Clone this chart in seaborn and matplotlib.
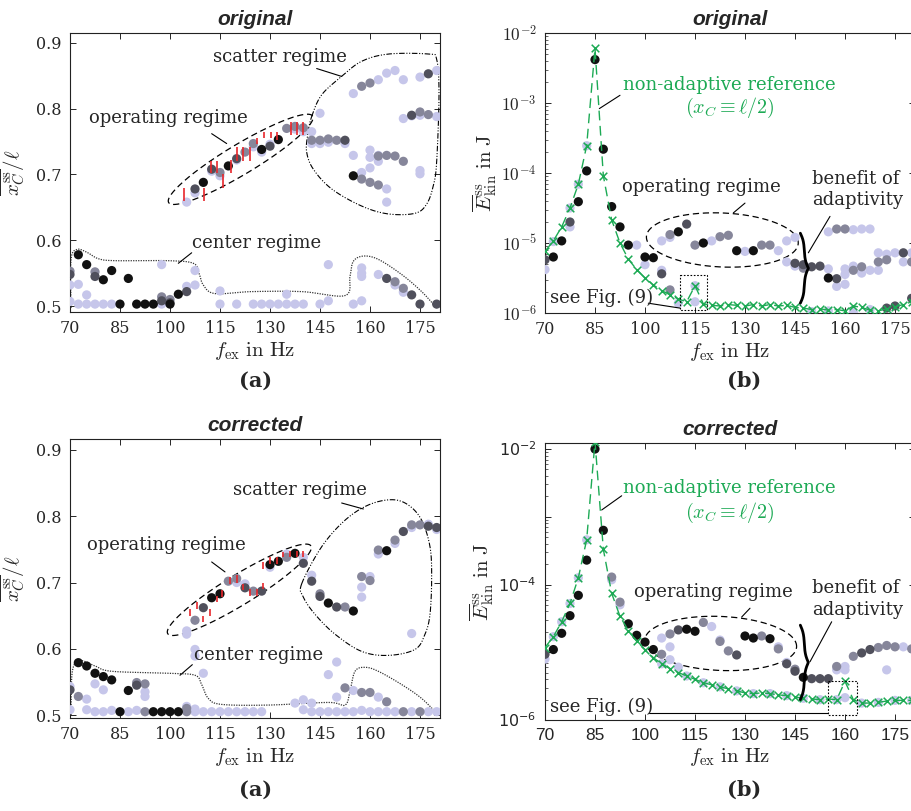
import numpy as np
import pandas as pd
import matplotlib
matplotlib.use("Agg")
import matplotlib.pyplot as plt
import seaborn as sns
from matplotlib.ticker import FixedLocator, LogLocator, NullFormatter

# ---------------- data (f in Hz, value) ----------------
# (a) original: normalized actuator position
a_orig_black = [(72.5,.578),(75,.563),(80,.540),(82.5,.554),(85,.503),(87.5,.542),(90,.503),(92.5,.503),(95,.503),
                (100,.503),(102.5,.518),(110,.688),(117.5,.713),(127.5,.738),(132.5,.753),(155,.698)]
a_orig_dark = [(70,.548),(77.5,.545),(97.5,.508),(100,.505),(105,.522),(165,.542),(172.5,.517),(175,.503),(180,.503),
               (107.5,.678),(112.5,.708),(120,.724),(130,.743),(152.5,.752),(177.5,.853),(172.5,.790)]
a_orig_mid = [(70,.553),(77.5,.552),(97.5,.514),(100,.510),(167.5,.537),(170,.527),(115,.703),(122.5,.734),(125,.747),
              (135,.770),(137.5,.773),(140,.771),(142.5,.752),(145,.752),(147.5,.754),(150,.752),(157.5,.834),(160,.839),
              (157.5,.693),(160,.688),(162.5,.684),(162.5,.728),(165,.729),(167.5,.728),(170,.720),(177.5,.791),(175,.795)]
a_orig_light = [(70,.532),(70,.507),(72.5,.533),(72.5,.503),(75,.517),(75,.503),(77.5,.503),(80,.503),(82.5,.503),
                (97.5,.563),(97.5,.503),(105,.530),(107.5,.554),(107.5,.532),(115,.523),(115,.503),(120,.503),(125,.503),
                (127.5,.503),(130,.503),(132.5,.503),(135,.518),(135,.503),(137.5,.503),(140,.503),(145,.503),(147.5,.563),
                (147.5,.508),(155,.503),(157.5,.558),(157.5,.550),(157.5,.545),(157.5,.508),(162.5,.548),(167.5,.532),
                (170,.521),(105,.658),(107.5,.672),(112.5,.705),(115,.698),(120,.722),(125,.742),(127.5,.734),(130,.746),
                (137.5,.769),(140,.765),(142.5,.765),(142.5,.747),(145,.793),(145,.747),(147.5,.749),(152.5,.747),
                (155,.823),(155,.729),(157.5,.703),(160,.737),(160,.726),(160,.710),(162.5,.844),(162.5,.729),(162.5,.720),
                (165,.854),(165,.678),(165,.658),(167.5,.858),(170,.844),(170,.785),(172.5,.789),(175,.848),(175,.790),
                (175,.706),(175,.701),(180,.858),(180,.788)]
a_orig_red = [(104.2,.660,.680),(110.2,.660,.680),(112.2,.702,.720),(114,.702,.720),(116,.680,.701),(118.2,.702,.722),
              (120,.721,.742),(122,.721,.741),(124,.721,.742),(126.2,.746,.756),(128.2,.755,.764),(130.2,.755,.764),
              (132.2,.753,.764),(136.2,.760,.779),(138.2,.760,.779),(140,.760,.779)]

# (a) corrected
a_corr_black = [(72.5,.579),(75,.574),(77.5,.563),(80,.558),(82.5,.553),(85,.505),(87.5,.537),(95,.505),(97.5,.505),
                (100,.505),(102.5,.505),(112.5,.677),(115,.683),(130,.727),(132.5,.732),(137.5,.744),(147.5,.669),
                (155,.657),(165,.748)]
a_corr_dark = [(70,.538),(90,.545),(110,.662),(122.5,.692),(127.5,.687),(140,.729),(142.5,.702),(145,.679),(150,.663),
               (170,.777),(180,.783),(177.5,.785)]
a_corr_mid = [(72.5,.528),(90,.549),(92.5,.547),(92.5,.505),(105,.510),(105,.505),(107.5,.643),(117.5,.702),(120,.706),
              (125,.687),(135,.738),(145,.683),(152.5,.663),(157.5,.709),(160,.703),(162.5,.749),(167.5,.764),
              (172.5,.787),(175,.787),(152.5,.541),(157.5,.534),(160,.534),(165,.520),(170,.505),(175,.505)]
a_corr_light = [(70,.543),(70,.508),(75,.524),(75,.508),(77.5,.547),(77.5,.505),(80,.538),(80,.505),(82.5,.507),
                (87.5,.505),(90,.507),(92.5,.535),(92.5,.528),(105,.513),(107.5,.599),(107.5,.589),(107.5,.509),
                (107.5,.505),(110,.563),(110,.505),(112.5,.505),(115,.505),(117.5,.505),(120,.505),(122.5,.505),
                (125,.505),(127.5,.505),(137.5,.518),(140,.523),(140,.508),(142.5,.518),(142.5,.505),(145,.505),
                (147.5,.561),(147.5,.505),(150,.580),(150,.527),(150,.505),(152.5,.505),(155,.537),(155,.505),
                (157.5,.507),(160,.505),(162.5,.527),(162.5,.505),(165,.505),(167.5,.505),(172.5,.505),(177.5,.505),
                (180,.505),(105,.627),(105,.622),(120,.700),(122.5,.698),(130,.723),(135,.743),(140,.738),(142.5,.711),
                (157.5,.693),(157.5,.678),(160,.709),(162.5,.743),(167.5,.759),(172.5,.783),(177.5,.788),(180,.780),
                (172.5,.623)]
a_corr_red = [(106,.650,.660),(108,.660,.670),(110,.640,.650),(112,.650,.660),(114,.670,.680),(115.7,.678,.688),
              (118,.698,.708),(120,.700,.711),(122,.688,.698),(124,.680,.690),(126,.680,.690),(128,.690,.700),
              (128,.721,.731),(130,.728,.738),(132,.728,.738),(134,.738,.746),(136,.738,.748),(138,.738,.748),
              (140,.738,.748)]

# (b) original: kinetic energy, given as log10(E / J)
b_orig_ref = [(70,-5.12),(72.5,-4.97),(75,-4.77),(77.5,-4.50),(80,-4.16),(82.5,-3.61),(85,-2.22),(87.5,-4.04),
              (90,-4.67),(92.5,-5.00),(95,-5.23),(97.5,-5.38),(100,-5.50),(102.5,-5.60),(105,-5.68),(107.5,-5.74),
              (110,-5.80),(112.5,-5.84),(115,-5.61),(117.5,-5.87),(120,-5.89),(122.5,-5.90),(125,-5.88),(127.5,-5.89),
              (130,-5.90),(132.5,-5.88),(135,-5.90),(137.5,-5.88),(140,-5.90),(142.5,-5.89),(145,-5.92),(147.5,-5.93),
              (150,-5.95),(152.5,-5.94),(155,-5.96),(157.5,-5.95),(160,-5.97),(162.5,-5.90),(165,-5.92),(167.5,-5.96),
              (170,-5.97),(172.5,-5.94),(175,-5.91),(177.5,-5.88),(180,-5.84)]
b_orig_black = [(72.5,-5.20),(75,-4.97),(80,-4.41),(82.5,-3.97),(85,-2.38),(87.5,-3.66),(90,-4.48),(92.5,-4.77),
                (95,-5.03),(100,-5.20),(102.5,-5.21),(110,-4.84),(117.5,-5.00),(127.5,-5.11),(132.5,-5.11),(155,-5.50)]
b_orig_dark = [(70,-5.24),(77.5,-4.70),(105,-5.44),(112.5,-4.73),(145,-5.29),(147.5,-5.31),(150,-5.34),(152.5,-5.33),
               (157.5,-5.51),(177.5,-5.14),(172.5,-5.93),(175,-5.90),(180,-5.79)]
b_orig_mid = [(107.5,-4.88),(115,-5.03),(122.5,-4.91),(125,-4.89),(135,-5.03),(137.5,-5.03),(107.5,-5.67),(157.5,-4.80),
              (160,-4.80),(162.5,-5.39),(165,-5.34),(170,-5.27),(172.5,-5.24),(180,-5.27),(147.5,-5.36)]
b_orig_light = [(70,-5.38),(72.5,-4.98),(77.5,-4.77),(77.5,-4.50),(80,-4.16),(82.5,-3.61),(97.5,-5.03),(100,-5.31),
                (105,-5.39),(115,-5.84),(115,-5.61),(105,-4.97),(107.5,-4.92),(120,-4.97),(130,-5.12),(140,-5.11),
                (142.5,-4.97),(145,-4.92),(142.5,-5.27),(145,-5.33),(155,-4.84),(162.5,-4.81),(165,-4.80),(167.5,-4.80),
                (155,-5.37),(160,-5.37),(160,-5.45),(162.5,-5.33),(165,-5.43),(167.5,-5.39),(170,-5.39),(157.5,-5.62),
                (160,-5.59),(170,-5.14),(172.5,-5.16),(175,-5.14),(177.5,-5.27),(180,-5.14),(150,-5.98),(155,-5.97),
                (162.5,-5.99),(167.5,-5.95),(110,-5.86)]

# (b) corrected
b_corr_ref = [(70,-4.93),(72.5,-4.77),(75,-4.55),(77.5,-4.28),(80,-3.90),(82.5,-3.34),(85,-1.89),(87.5,-3.48),
              (90,-4.13),(92.5,-4.47),(95,-4.68),(97.5,-4.84),(100,-4.96),(102.5,-5.08),(105,-5.17),(107.5,-5.24),
              (110,-5.30),(112.5,-5.35),(115,-5.40),(117.5,-5.45),(120,-5.48),(122.5,-5.51),(125,-5.54),(127.5,-5.57),
              (130,-5.60),(132.5,-5.61),(135,-5.60),(137.5,-5.61),(140,-5.63),(142.5,-5.64),(145,-5.66),(147.5,-5.68),
              (150,-5.69),(152.5,-5.70),(155,-5.69),(157.5,-5.70),(160,-5.43),(162.5,-5.70),(165,-5.75),(167.5,-5.75),
              (170,-5.74),(172.5,-5.72),(175,-5.71),(177.5,-5.71),(180,-5.71)]
b_corr_black = [(72.5,-4.96),(75,-4.72),(77.5,-4.46),(80,-4.16),(82.5,-3.64),(85,-2.00),(87.5,-3.20),(95,-4.58),
                (97.5,-4.75),(100,-4.85),(102.5,-4.96),(112.5,-4.66),(115,-4.69),(130,-4.76),(132.5,-4.79),
                (137.5,-4.80),(147.5,-5.37)]
b_corr_dark = [(70,-5.03),(110,-4.67),(127.5,-5.04),(142.5,-5.17),(145,-5.28),(150,-5.39),(152.5,-5.39),(155,-5.39),
               (165,-5.01),(167.5,-4.96)]
b_corr_mid = [(90,-3.89),(92.5,-4.26),(105,-5.03),(107.5,-4.73),(117.5,-4.56),(122.5,-4.84),(125,-4.98),(135,-4.76),
              (140,-4.95),(145,-5.25),(157.5,-5.21),(162.5,-5.06),(170,-4.93),(172.5,-4.90),(175,-4.92),(180,-4.95)]
b_corr_light = [(70,-5.10),(90,-3.93),(92.5,-4.30),(105,-4.79),(107.5,-4.92),(120,-4.62),(122.5,-4.82),(140,-4.92),
                (142.5,-5.15),(157.5,-5.26),(160,-5.21),(160,-5.26),(177.5,-4.92),(172.5,-5.26),(160,-5.67),
                (107.5,-5.11),(110,-5.22),(72.5,-4.77),(75,-4.55),(77.5,-4.28),(80,-3.90),(82.5,-3.34),(105,-5.17),
                (112.5,-5.35),(117.5,-5.45),(122.5,-5.51),(127.5,-5.57),(132.5,-5.61),(137.5,-5.61),(142.5,-5.64),
                (147.5,-5.68),(152.5,-5.70),(157.5,-5.70),(165,-5.75),(170,-5.74),(175,-5.71),(180,-5.71)]

X_TICKS = [70, 85, 100, 115, 130, 145, 160, 175]
Y_TICKS_A = [0.5, 0.6, 0.7, 0.8, 0.9]

# ---------------- styling ----------------
sns.set_style("ticks")
plt.rcParams["font.family"] = ["DejaVu Serif"]
plt.rcParams["mathtext.fontset"] = "cm"

SHADES = {"light": "#c6c6ea", "mid": "#86869a", "dark": "#50505c", "black": "#111111"}
GREEN = "#1daa55"
W, H = 911, 811
fig = plt.figure(figsize=(W / 100, H / 100), dpi=100)


def axpos(l, t, r, b):
    return [l / W, 1 - b / H, (r - l) / W, (b - t) / H]


axA = fig.add_axes(axpos(70, 33, 440, 312))
axB = fig.add_axes(axpos(545, 33, 915, 313))
axC = fig.add_axes(axpos(70, 439, 440, 718))
axD = fig.add_axes(axpos(545, 443, 915, 720))


def scatter(ax, groups, log=False):
    rows = []
    for name, pts in groups:
        for p in pts:
            rows.append((p[0], 10 ** p[1] if log else p[1], name))
    df = pd.DataFrame(rows, columns=["f", "v", "shade"])
    sns.scatterplot(data=df, x="f", y="v", hue="shade", palette=SHADES, s=44, edgecolor="none",
                    linewidth=0, legend=False, ax=ax, zorder=3)


def reference(ax, ref):
    df = pd.DataFrame({"f": [p[0] for p in ref], "E": [10 ** p[1] for p in ref]})
    sns.lineplot(data=df, x="f", y="E", estimator=None, color=GREEN, lw=1.0,
                 linestyle=(0, (7, 4)), ax=ax, zorder=4)
    sns.scatterplot(data=df, x="f", y="E", marker="x", color=GREEN, s=30, linewidth=1.1, ax=ax, zorder=5)


def setup(ax, log, ylim):
    ax.set_xlim(70, 181)
    ax.set_ylim(*ylim)
    ax.set_xlabel("")
    ax.set_ylabel("")
    if log:
        ax.set_yscale("log")
    ax.xaxis.set_major_locator(FixedLocator(X_TICKS))
    ax.set_xticklabels([str(t) for t in X_TICKS])
    ax.tick_params(direction="in", top=True, right=True, length=4, width=0.7, labelsize=11.5, pad=6)
    ax.tick_params(which="minor", direction="in", length=2, width=0.5, right=True)
    for s in ax.spines.values():
        s.set_linewidth(0.8)
        s.set_color("#222222")


scatter(axA, [("light", a_orig_light), ("mid", a_orig_mid), ("dark", a_orig_dark), ("black", a_orig_black)])
scatter(axC, [("light", a_corr_light), ("mid", a_corr_mid), ("dark", a_corr_dark), ("black", a_corr_black)])
scatter(axB, [("light", b_orig_light), ("mid", b_orig_mid), ("dark", b_orig_dark), ("black", b_orig_black)], log=True)
scatter(axD, [("light", b_corr_light), ("mid", b_corr_mid), ("dark", b_corr_dark), ("black", b_corr_black)], log=True)
reference(axB, b_orig_ref)
reference(axD, b_corr_ref)

for ax, red in ((axA, a_orig_red), (axC, a_corr_red)):
    ax.vlines([r[0] for r in red], [r[1] for r in red], [r[2] for r in red], color="#e8262b", lw=1.2, zorder=4)

setup(axA, False, (0.491, 0.915))
setup(axC, False, (0.4955, 0.9166))
setup(axB, True, (1e-6, 1e-2))
setup(axD, True, (1e-6, 10 ** -1.911))

for ax in (axA, axC):
    ax.yaxis.set_major_locator(FixedLocator(Y_TICKS_A))
    ax.set_yticklabels(["%.1f" % t for t in Y_TICKS_A])

for ax in (axB, axD):
    ax.yaxis.set_major_locator(FixedLocator([1e-6, 1e-5, 1e-4, 1e-3, 1e-2]))
    ax.yaxis.set_minor_locator(LogLocator(base=10, subs=np.arange(2, 10), numticks=20))
    ax.yaxis.set_minor_formatter(NullFormatter())
axB.set_yticklabels([r"$10^{-6}$", r"$10^{-5}$", r"$10^{-4}$", r"$10^{-3}$", r"$10^{-2}$"], fontsize=12.5)
axD.set_yticklabels([r"$10^{-6}$", "", r"$10^{-4}$", "", r"$10^{-2}$"], fontsize=11.5, math_fontfamily="dejavusans")
axD.set_xticklabels([str(t) for t in X_TICKS], family="Liberation Sans", fontsize=12.5)

XL = r"$f_{\mathrm{ex}}\ \mathrm{in\ Hz}$"
for ax in (axA, axB, axC, axD):
    ax.set_xlabel(XL, fontsize=15, labelpad=2)
for ax in (axA, axC):
    ax.set_ylabel(r"$\overline{x_C^{\mathrm{ss}}}/\ell$", fontsize=15, labelpad=6)
for ax in (axB, axD):
    ax.set_ylabel(r"$\overline{E}_{\mathrm{kin}}^{\mathrm{ss}}\ \mathrm{in\ J}$", fontsize=15, labelpad=2)

for ax, t in ((axA, "original"), (axB, "original"), (axC, "corrected"), (axD, "corrected")):
    ax.set_title(t, fontsize=15, fontweight="bold", fontstyle="italic", family="Liberation Sans", pad=6)

for x, y, t in ((256, 381, "(a)"), (744, 381, "(b)"), (256, 790, "(a)"), (744, 790, "(b)")):
    fig.text(x / W, 1 - y / H, t, fontsize=15, fontweight="bold", family="DejaVu Serif", ha="center", va="center")


# ---------------- annotation helpers (display-space geometry) ----------------
def to_disp(ax, xs, ys):
    return ax.transData.transform(np.column_stack([xs, ys]))


def to_data(ax, P):
    return ax.transData.inverted().transform(P)


def catmull(P, closed, n=24):
    P = np.asarray(P, float)
    E = np.vstack([P[-1], P, P[0], P[1]]) if closed else np.vstack([P[0], P, P[-1]])
    out = []
    t = np.linspace(0, 1, n, endpoint=False)[:, None]
    for i in range(1, len(E) - 2):
        p0, p1, p2, p3 = E[i - 1], E[i], E[i + 1], E[i + 2]
        out.append(0.5 * (2 * p1 + (-p0 + p2) * t + (2 * p0 - 5 * p1 + 4 * p2 - p3) * t ** 2
                          + (-p0 + 3 * p1 - 3 * p2 + p3) * t ** 3))
    out.append(E[-2][None, :])
    return np.vstack(out)


def curve(ax, pts, closed, **kw):
    P = to_disp(ax, [p[0] for p in pts], [p[1] for p in pts])
    d = to_data(ax, catmull(P, closed))
    ax.plot(d[:, 0], d[:, 1], color="black", clip_on=False, zorder=2, **kw)


def ellipse(ax, cx, cy, a, b, ang, **kw):
    c = to_disp(ax, [cx], [cy])[0]
    t = np.linspace(0, 2 * np.pi, 300)
    th = np.deg2rad(ang)
    x, y = a * np.cos(t), b * np.sin(t)
    P = np.column_stack([c[0] + x * np.cos(th) - y * np.sin(th), c[1] + x * np.sin(th) + y * np.cos(th)])
    d = to_data(ax, P)
    ax.plot(d[:, 0], d[:, 1], color="black", zorder=2, **kw)


def brace(ax, x, ytop, ybot, w):
    P = to_disp(ax, [x, x], [ytop, ybot])
    s = np.linspace(0, 0.5, 101)
    beta = 16
    h = 1 / (1 + np.exp(-beta * (s - s[0]))) + 1 / (1 + np.exp(-beta * (s - s[-1])))
    h = np.concatenate([h, h[-2::-1]])
    h = (h - h.min()) / (h.max() - h.min())
    yy = np.linspace(P[0, 1], P[1, 1], len(h))
    d = to_data(ax, np.column_stack([P[0, 0] + w * h, yy]))
    ax.plot(d[:, 0], d[:, 1], color="black", lw=2.0, zorder=6)


def leader(ax, p, q):
    ax.plot([p[0], q[0]], [p[1], q[1]], color="black", lw=0.8, zorder=6)


TXT = dict(fontsize=13, ha="center", va="center", zorder=7)
DASH = dict(lw=0.9, linestyle=(0, (5, 3)))
DDOT = dict(lw=0.8, linestyle=(0, (5, 1.5, 1, 1.5, 1, 1.5)))
DOT = dict(lw=0.9, linestyle=(0, (1, 1)), alpha=0.8)

# panel (a) original
axA.text(133, 0.878, "scatter regime", **TXT)
leader(axA, (144, 0.861), (151.5, 0.849))
axA.text(99.5, 0.786, "operating regime", **TXT)
leader(axA, (112.5, 0.762), (117, 0.747))
axA.text(126, 0.596, "center regime", **TXT)
leader(axA, (106.5, 0.581), (102.5, 0.565))
ellipse(axA, 121.2, 0.723, 84, 15, 31, **DASH)
curve(axA, [(142.5, .788), (145.5, .821), (151.5, .849), (157.5, .872), (165.5, .883), (177.5, .883), (180, .875),
            (180.7, .821), (180, .719), (179, .683), (177, .655), (173.5, .641), (165.5, .640), (157.5, .652),
            (148.5, .678), (143, .708), (141, .734), (141.3, .760)], True, **DDOT)
curve(axA, [(70.3, .497), (70.3, .570), (72, .586), (75, .582), (78.5, .572), (83.5, .569), (99.5, .569),
            (107, .565), (108.7, .550), (110, .532), (113.5, .519), (124.5, .522), (139.5, .522), (152.5, .516),
            (154, .545), (155, .568), (158, .576), (162.5, .571), (169.5, .548), (175.5, .522), (180, .497)],
      False, **DOT)

# panel (a) corrected
axC.text(139, 0.840, "scatter regime", **TXT)
leader(axC, (151.5, 0.820), (158, 0.811))
axC.text(99, 0.756, "operating regime", **TXT)
leader(axC, (112.5, 0.731), (116.5, 0.716))
axC.text(126.5, 0.591, "center regime", **TXT)
leader(axC, (106.7, 0.576), (103, 0.560))
ellipse(axC, 120.8, 0.689, 84, 15, 31.5, **DASH)
curve(axC, [(139.5, .698), (145.5, .754), (152.5, .794), (159.5, .817), (166.5, .825), (171.5, .817), (175.5, .794),
            (178, .754), (178.5, .708), (178, .652), (176.5, .622), (173.5, .599), (165.5, .590), (157.5, .596),
            (149.5, .622), (143.5, .652), (140, .678)], True, **DDOT)
curve(axC, [(70.3, .500), (70.7, .566), (73, .582), (77.5, .574), (82.5, .566), (99.5, .563), (107.5, .560),
            (109.5, .546), (111.5, .525), (115.5, .516), (129.5, .515), (147.5, .519), (152.5, .515), (154, .536),
            (155.5, .566), (158.5, .572), (162.5, .566), (169.5, .546), (175.5, .525), (180.5, .500)], False, **DOT)

# panel (b) original and corrected
for ax, lv in ((axB, dict(n1=-2.75, n2=-3.07, l1=(92.5, -2.89), l2=(86.3, -3.08), op=(117, -4.20),
                          ol1=(130, -4.43), ol2=(126.5, -4.57), el=(123.2, -4.957), b1=-4.08, b2=-4.39,
                          bl1=(155.5, -4.62), bl2=(149, -5.14), br=(-4.86, -5.86), see=-5.79,
                          sl1=(101, -5.86), sl2=(110.5, -5.93), box=(110.5, 118.7, -5.46, -5.95))),
               (axD, dict(n1=-2.57, n2=-2.95, l1=(93, -2.69), l2=(87, -2.90), op=(120.5, -4.11),
                          ol1=(131.5, -4.35), ol2=(129, -4.48), el=(122.7, -4.87), b1=-4.05, b2=-4.38,
                          bl1=(156, -4.55), bl2=(149.5, -5.14), br=(-4.60, -5.70), see=-5.80,
                          sl1=(101.3, -5.90), sl2=(155, -5.90), box=(155, 163.5, -5.42, -5.93)))):
    p = lambda xy: (xy[0], 10 ** xy[1])
    ax.text(125.2, 10 ** lv["n1"], "non-adaptive reference", color=GREEN, **TXT)
    ax.text(125.5, 10 ** lv["n2"], r"$(x_C \equiv \ell/2)$", color=GREEN, fontsize=14.5, ha="center", va="center")
    leader(ax, p(lv["l1"]), p(lv["l2"]))
    ax.text(lv["op"][0], 10 ** lv["op"][1], "operating regime", **TXT)
    leader(ax, p(lv["ol1"]), p(lv["ol2"]))
    ellipse(ax, lv["el"][0], 10 ** lv["el"][1], 76, 27, -2.5, **DASH)
    ax.text(150.2, 10 ** lv["b1"], "benefit of", fontsize=13, ha="left", va="center", clip_on=False)
    ax.text(150.2, 10 ** lv["b2"], "adaptivity", fontsize=13, ha="left", va="center", clip_on=False)
    leader(ax, p(lv["bl1"]), p(lv["bl2"]))
    brace(ax, 146.6, 10 ** lv["br"][0], 10 ** lv["br"][1], 8)
    ax.text(71.4, 10 ** lv["see"], "see Fig. (9)", fontsize=13, ha="left", va="center", zorder=7)
    leader(ax, p(lv["sl1"]), p(lv["sl2"]))
    x0, x1, y0, y1 = lv["box"]
    ax.plot([x0, x1, x1, x0, x0], [10 ** y0, 10 ** y0, 10 ** y1, 10 ** y1, 10 ** y0], color="black",
            lw=0.8, linestyle=(0, (1.5, 1.5)), zorder=6)

fig.savefig("out.png", dpi=100)
